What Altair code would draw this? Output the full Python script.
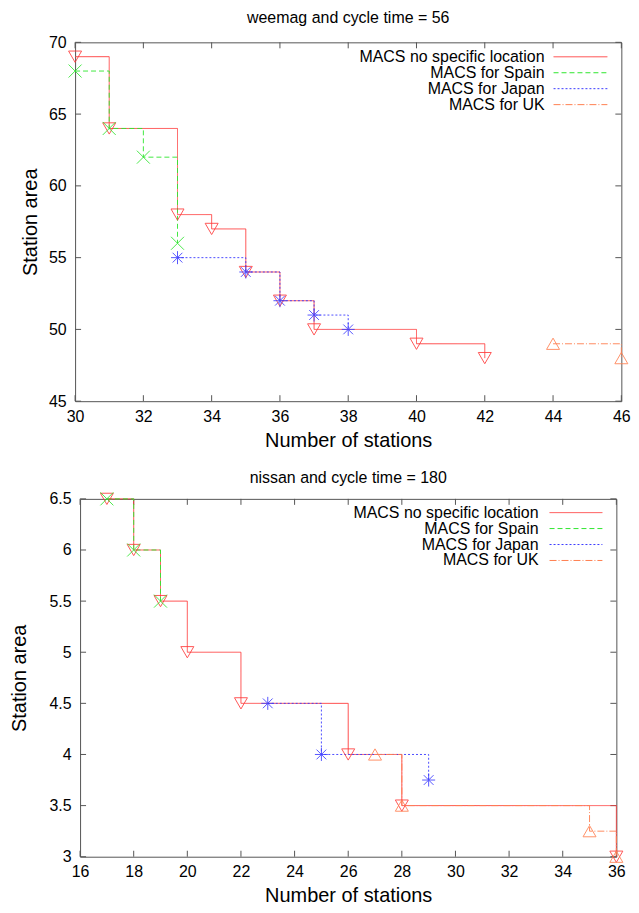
import altair as alt
import pandas as pd

FONT = "Liberation Sans"
AXC = "#555555"

SERIES = ["MACS no specific location", "MACS for Spain", "MACS for Japan", "MACS for UK"]
COLORS = ["#ff3a3a", "#2ee62e", "#3a3aff", "#ff7f50"]
DASHES = [[1, 0], [5, 3], [2, 2], [7, 2, 1, 2]]
SHAPES = [
    "triangle-down",
    "M-1,-1L1,1M-1,1L1,-1",
    "M-0.75,-0.75L0.75,0.75M-0.75,0.75L0.75,-0.75M0,-1L0,1M-1,0L1,0",
    "triangle-up",
]

# ---- weemag, cycle time = 56 ----
W_TITLE = "weemag and cycle time = 56"
W_NONE_X = [30, 31, 33, 34, 35, 36, 37, 40, 42]
W_NONE_Y = [69, 64, 58, 57, 54, 52, 50, 49, 48]
W_SPAIN_X = [30, 31, 32, 33]
W_SPAIN_Y = [68, 64, 62, 56]
W_JAPAN_X = [33, 35, 36, 37, 38]
W_JAPAN_Y = [55, 54, 52, 51, 50]
W_UK_X = [44, 46]
W_UK_Y = [49, 48]
W_XTICKS = [30, 32, 34, 36, 38, 40, 42, 44, 46]
W_YTICKS = [45, 50, 55, 60, 65, 70]

# ---- nissan, cycle time = 180 ----
N_TITLE = "nissan and cycle time = 180"
N_NONE_X = [17, 18, 19, 20, 22, 26, 28, 36]
N_NONE_Y = [6.5, 6, 5.5, 5, 4.5, 4, 3.5, 3]
N_SPAIN_X = [17, 18, 19]
N_SPAIN_Y = [6.5, 6, 5.5]
N_JAPAN_X = [23, 25, 29]
N_JAPAN_Y = [4.5, 4, 3.75]
N_UK_X = [27, 28, 35, 36]
N_UK_Y = [4, 3.5, 3.25, 3]
N_XTICKS = [16, 18, 20, 22, 24, 26, 28, 30, 32, 34, 36]
N_YTICKS = [3, 3.5, 4, 4.5, 5, 5.5, 6, 6.5]


def long_df(xs, ys):
    rows = []
    for s, (xx, yy) in zip(SERIES, zip(xs, ys)):
        for i, (a, b) in enumerate(zip(xx, yy)):
            rows.append({"series": s, "x": a, "y": b, "o": i})
    return pd.DataFrame(rows)


color_enc = alt.Color("series:N", scale=alt.Scale(domain=SERIES, range=COLORS), legend=None)
dash_enc = alt.StrokeDash("series:N", scale=alt.Scale(domain=SERIES, range=DASHES), legend=None)
shape_enc = alt.Shape("series:N", scale=alt.Scale(domain=SERIES, range=SHAPES), legend=None)


def panel(title, xs, ys, xdom, ydom, xticks, yticks, yfmt, W, H, ytp, toff, leg):
    df = long_df(xs, ys)
    xenc = alt.X(
        "x:Q",
        scale=alt.Scale(domain=xdom, nice=False, zero=False),
        axis=alt.Axis(values=xticks, format="d", labelFlush=False, labelOverlap=False,
                      labelPadding=7, titlePadding=6),
        title="Number of stations",
    )
    yenc = alt.Y(
        "y:Q",
        scale=alt.Scale(domain=ydom, nice=False, zero=False),
        axis=alt.Axis(values=yticks, format=yfmt, labelOverlap=False, labelPadding=9,
                      titlePadding=ytp, labelFlush=False),
        title="Station area",
    )
    lines = alt.Chart(df).mark_line(interpolate="step-after", strokeWidth=1, opacity=0.9).encode(
        x=xenc, y=yenc, order="o:Q", color=color_enc, strokeDash=dash_enc
    )
    points = alt.Chart(df).mark_point(filled=False, size=170, strokeWidth=1, opacity=0.85).encode(
        x=xenc, y=yenc, color=color_enc, shape=shape_enc
    )
    xt = pd.DataFrame({"x": xticks})
    yt = pd.DataFrame({"y": yticks})
    xb = alt.Chart(xt).mark_rule(color=AXC, strokeWidth=1).encode(x=xenc, y=alt.value(H), y2=alt.value(H - 6))
    xtop = alt.Chart(xt).mark_rule(color=AXC, strokeWidth=1).encode(x=xenc, y=alt.value(0), y2=alt.value(6))
    yl = alt.Chart(yt).mark_rule(color=AXC, strokeWidth=1).encode(y=yenc, x=alt.value(0), x2=alt.value(6))
    yr = alt.Chart(yt).mark_rule(color=AXC, strokeWidth=1).encode(y=yenc, x=alt.value(W - 6), x2=alt.value(W))

    tx, lx1, lx2, ly0 = leg
    legend_layers = []
    for i, s in enumerate(SERIES):
        ld = pd.DataFrame({"series": [s]})
        legend_layers.append(
            alt.Chart(ld).mark_text(align="right", baseline="middle", fontSize=16, font=FONT, color="black")
            .encode(x=alt.value(tx), y=alt.value(ly0 + 16 * i), text="series:N")
        )
        legend_layers.append(
            alt.Chart(ld).mark_rule(strokeWidth=1)
            .encode(x=alt.value(lx1), x2=alt.value(lx2), y=alt.value(ly0 + 16 * i),
                    color=color_enc, strokeDash=dash_enc)
        )

    return alt.layer(xb, xtop, yl, yr, lines, points, *legend_layers).properties(
        width=W,
        height=H,
        title=alt.TitleParams(title, fontSize=16, fontWeight="normal", font=FONT, offset=toff,
                              anchor="middle", frame="group", color="black"),
    )


top = panel(W_TITLE, [W_NONE_X, W_SPAIN_X, W_JAPAN_X, W_UK_X], [W_NONE_Y, W_SPAIN_Y, W_JAPAN_Y, W_UK_Y],
            [30, 46], [45, 70], W_XTICKS, W_YTICKS, "d", 548, 360, 8, 8, (471, 480, 534, 14.5))
bottom = panel(N_TITLE, [N_NONE_X, N_SPAIN_X, N_JAPAN_X, N_UK_X], [N_NONE_Y, N_SPAIN_Y, N_JAPAN_Y, N_UK_Y],
               [16, 36], [3, 6.5], N_XTICKS, N_YTICKS, "~g", 538, 359, 20, 4, (460, 471, 524, 13.8))

chart = alt.vconcat(top, bottom, spacing=18, center=True).properties(
    padding={"left": 0, "top": 0, "right": 0, "bottom": 0}
).configure_view(stroke=AXC, strokeWidth=1).configure_axis(
    domain=False, ticks=False, grid=False, labelFont=FONT, titleFont=FONT, labelFontSize=16,
    titleFontSize=20, titleFontWeight="normal", labelColor="black", titleColor="black",
)

chart.save("out.html", embed_options={"renderer": "svg", "actions": False})
